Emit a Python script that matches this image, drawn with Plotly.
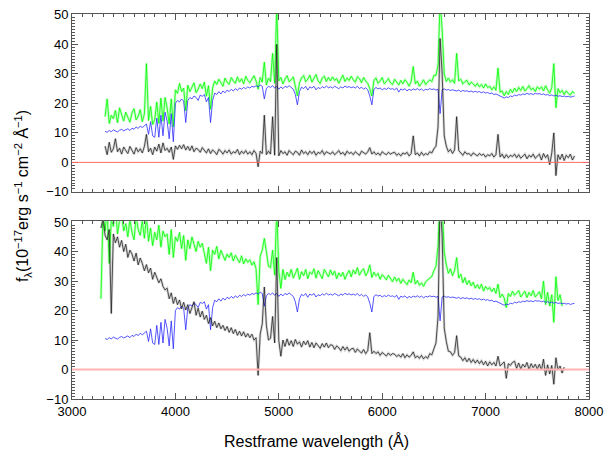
import numpy as np
import plotly.graph_objects as go

# Rest-frame wavelength grid (Angstrom), 20 A sampling
wave = np.arange(3280, 7861, 20)

# Host-galaxy model (blue), identical in both panels
blue_model = [
    None, None, 10.5, 10.2, 10.8, 10.4, 11.0, 10.6, 10.3, 10.9, 11.2, 10.7,
    11.0, 11.4, 10.8, 11.6, 11.2, 12.0, 11.5, 12.3, 11.8, 12.5,
    13.0, 9.5, 13.8, 9.0, 8.5, 15.0, 8.5, 16.0, 9.0, 17.0,
    14.0, 8.0, 16.5, 7.0, 20.0, 21.0, 20.5, 21.5, 20.8, 13.5,
    21.0, 22.0, 21.5, 22.5, 22.0, 21.0, 22.8, 22.4, 23.0, 20.5,
    22.0, 13.5, 21.0, 23.5, 23.0, 24.0, 23.2, 24.2, 23.6, 24.5,
    24.0, 24.8, 24.2, 25.0, 24.4, 25.2, 24.8, 25.4, 25.0, 25.6,
    25.2, 25.8, 25.5, 26.0, 25.6, 26.2, 25.8, 21.5, 25.0, 25.8,
    25.4, 26.0, 25.2, 25.8, 24.8, 25.6, 25.0, 25.8, 25.4, 26.0,
    25.5, 24.8, 23.0, 19.5, 24.0, 25.5, 25.0, 25.8, 24.5, 25.6,
    25.2, 25.8, 24.6, 25.4, 25.0, 25.7, 25.2, 25.9, 25.3, 25.6,
    25.2, 25.8, 25.4, 25.0, 25.6, 25.2, 25.9, 25.4, 25.7, 25.3,
    25.6, 25.2, 25.8, 25.0, 25.5, 24.8, 25.3, 24.6, 22.5, 19.5,
    24.8, 25.4, 24.9, 25.2, 24.6, 25.1, 24.7, 25.3, 24.8, 25.0,
    24.6, 25.2, 23.8, 24.9, 24.5, 25.0, 24.2, 24.8, 24.4, 24.9,
    24.6, 25.0, 24.5, 24.9, 24.3, 24.8, 24.6, 25.0, 24.7, 24.9,
    24.5, 24.8, 16.5, 24.6, 24.9, 24.5, 24.7, 24.4, 24.6, 24.3,
    24.2, 24.5, 24.0, 24.4, 24.1, 24.3, 23.9, 24.2, 23.8, 24.1,
    23.8, 24.0, 23.6, 23.9, 23.5, 23.7, 23.3, 23.5, 23.0, 23.2,
    22.8, 22.5, 22.0, 21.8, 22.2, 22.0, 22.5, 22.3, 22.8, 22.6,
    23.0, 22.8, 23.2, 23.0, 23.4, 23.1, 23.3, 23.0, 23.4, 23.2,
    23.3, 23.0, 23.2, 22.8, 23.0, 22.6, 22.9, 22.5, 22.8, 22.4,
    22.6, 22.3, 22.5, 22.2, 22.4, 22.1, 22.3, 22.5,
]

# Top panel: observed spectrum (green) and residual (black)
green_top = [
    None, None, 15.5, 21.5, 13.2, 16.0, 14.8, 17.6, 13.4, 18.5, 16.2, 14.0,
    17.0, 15.2, 13.6, 16.8, 18.2, 14.4, 15.6, 17.9, 13.8, 16.4,
    33.5, 14.2, 19.0, 12.8, 14.5, 20.5, 13.2, 21.8, 14.0, 22.0,
    18.5, 13.0, 21.5, 12.0, 24.6, 23.4, 26.8, 24.0, 25.2, 17.5,
    26.2, 24.0, 25.4, 27.0, 23.6, 24.8, 26.6, 25.0, 27.2, 22.4,
    26.0, 18.0, 25.2, 27.6, 26.4, 28.2, 27.0, 25.8, 28.6, 27.2,
    26.4, 28.8, 27.6, 26.8, 29.0, 27.2, 28.4, 26.6, 29.2, 27.8,
    27.0, 28.4, 29.4, 27.6, 24.8, 28.8, 27.2, 34.0, 26.2, 28.6,
    27.4, 37.0, 26.8, 53.0, 27.6, 28.8, 26.6, 28.2, 29.4, 27.4,
    28.0, 29.0, 25.2, 22.5, 27.0, 28.6, 29.4, 27.4, 28.2, 29.6,
    27.2, 28.4, 29.8, 27.6, 26.8, 28.6, 29.2, 27.4, 28.8, 27.6,
    29.0, 27.8, 28.4, 26.8, 28.2, 29.6, 27.4, 28.6, 27.8, 29.2,
    28.0, 27.2, 29.0, 28.4, 27.0, 28.8, 27.6, 26.8, 25.0, 22.5,
    27.8, 28.6, 26.8, 27.6, 28.8, 26.6, 27.4, 28.4, 27.0, 26.4,
    28.2, 27.0, 26.2, 27.8, 26.6, 28.0, 27.2, 25.8, 27.4, 32.5,
    26.6, 27.6, 25.8, 26.8, 28.0, 26.4, 27.2, 28.0, 27.4, 29.5,
    29.5, 33.0, 55.0, 45.0, 30.0, 27.4, 28.6, 27.2, 28.0, 26.8,
    37.0, 27.6, 28.2, 26.6, 27.4, 27.8, 26.2, 27.2, 26.6, 25.8,
    26.8, 25.6, 26.4, 25.2, 26.6, 25.4, 25.8, 24.6, 25.6, 24.4,
    32.0, 23.8, 24.2, 22.6, 24.0, 23.0, 24.8, 23.6, 25.2, 24.0,
    25.4, 24.4, 25.8, 24.2, 25.0, 26.0, 24.6, 25.2, 24.0, 25.6,
    24.8, 25.6, 24.2, 26.0, 24.6, 23.4, 25.4, 33.5, 18.5, 25.0,
    23.6, 24.4, 23.0, 24.2, 23.4, 22.8, 24.0, 23.4,
]

black_top = [
    None, None, 5.5, 2.6, 6.8, 3.4, 4.6, 8.0, 3.6, 4.8, 2.8, 5.2,
    4.0, 3.0, 5.4, 4.2, 2.8, 5.0, 3.6, 4.6, 3.2, 5.4,
    9.5, 3.6, 4.8, 2.6, 5.2, 3.8, 6.2, 3.2, 6.6, 4.0,
    4.8, 3.4, 5.2, 1.0, 5.6, 4.4, 5.8, 4.6, 6.0, 4.2,
    5.4, 4.0, 5.6, 3.6, 4.8, 4.4, 3.4, 5.0, 4.2, 3.2,
    4.6, 3.0, 4.2, 3.6, 2.6, 4.4, 3.8, 2.8, 4.0, 3.2,
    4.2, 2.8, 3.6, 3.2, 4.4, 2.6, 3.8, 3.0, 4.0, 2.8,
    3.6, 2.6, 4.0, 3.0, -1.5, 3.8, 3.0, 16.0, 2.6, 3.8,
    2.8, 15.5, 2.4, 40.0, 2.2, 4.0, 3.0, 3.6, 2.4, 4.0,
    3.2, 2.6, 3.8, 3.4, 2.4, 4.2, 3.0, 3.6, 2.6, 3.8,
    3.0, 3.8, 2.4, 3.4, 3.0, 4.0, 2.6, 3.6, 3.2, 2.8,
    3.6, 2.6, 3.2, 4.0, 2.8, 3.4, 2.4, 3.8, 3.0, 3.4,
    2.6, 3.6, 3.0, 2.4, 3.8, 3.2, 2.8, 3.6, 5.0, 2.8,
    3.6, 2.6, 3.2, 2.4, 3.6, 3.0, 2.6, 3.4, 2.8, 3.2,
    3.4, 2.4, 3.0, 2.2, 3.2, 2.8, 3.4, 2.2, 3.0, 9.0,
    2.6, 3.2, 2.2, 3.4, 2.4, 3.0, 2.6, 3.6, 3.2, 4.6,
    5.5, 12.0, 42.0, 30.0, 9.0, 5.5, 3.6, 4.4, 3.0, 4.2,
    15.5, 4.0, 3.2, 2.4, 3.6, 2.8, 3.0, 2.2, 3.2, 2.6,
    2.2, 3.0, 2.4, 2.8, 1.8, 2.6, 2.2, 3.0, 1.8, 2.6,
    9.5, 1.8, 2.8, 1.4, 2.6, 1.6, 2.4, 2.0, 2.8, 1.6,
    2.6, 1.4, 2.2, 2.8, 1.2, 2.4, 1.8, 2.8, 1.4, 2.2,
    2.8, 0.8, 3.0, 1.6, 2.6, -0.8, 3.2, 10.0, -4.5, 2.6,
    1.0, 2.8, 0.6, 2.4, 1.6, 2.8, 0.8, 2.2,
]

# Bottom panel: observed spectrum (green) and residual (black)
green_bot = [
    24.0, 53.0, 47.0, 54.0, 36.0, 51.0, 48.5, 55.0, 46.0, 50.5, 52.5, 47.0,
    49.5, 45.0, 51.0, 46.5, 44.0, 52.0, 47.5, 45.5, 50.5, 44.5,
    52.0, 43.5, 48.0, 42.0, 46.5, 44.0, 49.0, 41.5, 47.0, 45.0,
    46.0, 39.0, 47.5, 38.0, 45.0, 43.5, 46.5, 41.0, 45.5, 37.0,
    44.0, 41.0, 45.0, 42.5, 40.0, 43.5, 41.5, 42.8, 39.5, 36.0,
    41.5, 33.5, 40.5, 39.0, 41.8, 37.5, 40.5, 38.8, 37.0, 39.2,
    38.0, 39.6, 36.8, 38.8, 37.4, 36.2, 38.6, 35.8, 37.6, 36.4,
    37.2, 35.4, 36.6, 34.2, 22.0, 38.5, 40.5, 44.5, 40.0, 35.0,
    34.6, 40.5, 32.0, 55.0, 33.5, 27.5, 34.0, 30.5, 33.0, 31.5,
    34.0, 31.0, 32.6, 34.4, 30.6, 33.2, 31.8, 34.0, 30.8, 33.0,
    32.4, 34.2, 31.0, 33.6, 32.2, 30.8, 34.0, 32.6, 31.4, 33.8,
    32.0, 33.4, 30.8, 32.8, 31.6, 33.0, 30.6, 32.4, 33.6, 31.4,
    33.8, 32.4, 34.6, 32.0, 33.4, 34.2, 31.8, 33.0, 35.5, 31.2,
    33.0, 31.8, 32.6, 30.6, 32.2, 31.4, 30.4, 32.0, 30.8, 29.8,
    31.4, 30.0, 31.0, 29.2, 30.6, 29.8, 28.8, 30.4, 29.4, 33.0,
    29.0, 30.2, 28.6, 29.4, 28.2, 29.8, 30.4, 31.0, 31.6, 33.5,
    35.0, 42.0, 60.0, 56.0, 40.0, 35.5, 32.6, 34.2, 31.8, 33.6,
    38.0, 31.0, 32.4, 29.4, 31.2, 28.8, 30.2, 28.4, 29.6, 27.6,
    28.8, 27.4, 29.0, 26.6, 28.2, 27.2, 27.8, 26.4, 27.6, 25.8,
    29.0, 24.4, 25.6, 24.2, 21.0, 25.8, 24.8, 26.6, 25.2, 26.0,
    26.8, 24.6, 25.8, 26.6, 24.4, 26.2, 25.0, 26.8, 24.6, 25.6,
    26.4, 24.0, 30.0, 22.0, 26.2, 21.5, 25.4, 16.0, 31.5, 23.4,
    25.4, 21.5, None, None, None, None, None, None,
]

black_bot = [
    48.0, 51.0, 45.5, 44.0, 47.5, 19.0, 46.0, 43.0, 45.0, 41.5, 43.8, 40.0,
    42.5, 38.0, 40.5, 39.2, 36.8, 39.5, 35.5, 37.8, 36.0, 33.5,
    35.6, 32.8, 34.4, 30.6, 33.0, 31.2, 29.4, 30.8, 28.2, 27.0,
    27.6, 24.0, 26.0, 22.4, 24.6, 22.0, 23.6, 20.6, 22.8, 20.2,
    22.0, 19.0, 21.4, 23.0, 18.4, 20.8, 17.8, 19.8, 17.0, 18.4,
    15.6, 17.6, 14.8, 16.4, 14.2, 15.8, 13.8, 15.0, 13.2, 14.6,
    12.6, 14.2, 12.2, 13.6, 11.6, 13.0, 11.4, 12.8, 11.0, 12.2,
    10.8, 12.0, 10.0, 10.8, -2.0, 12.0, 15.5, 28.0, 15.0, 10.0,
    10.6, 18.0, 9.0, 38.0, 9.8, 4.5, 10.0, 7.8, 10.4, 8.2,
    9.8, 7.8, 10.2, 8.6, 9.4, 7.6, 9.6, 8.4, 9.8, 7.6,
    9.2, 7.4, 9.0, 8.0, 7.2, 8.8, 7.6, 9.0, 7.4, 8.4,
    8.2, 6.8, 8.0, 7.4, 6.4, 7.8, 6.6, 7.6, 6.2, 7.0,
    7.2, 5.8, 7.0, 6.2, 5.6, 6.8, 5.4, 6.4, 12.5, 5.4,
    6.2, 5.4, 6.0, 4.8, 5.8, 5.2, 4.6, 5.6, 4.8, 5.4,
    5.2, 4.4, 5.0, 4.2, 5.4, 4.0, 5.0, 4.2, 4.8, 6.0,
    4.0, 4.6, 3.8, 4.8, 3.6, 4.4, 3.8, 5.4, 5.0, 7.0,
    9.0, 18.0, 58.0, 45.0, 14.0, 9.5, 6.2, 6.0, 4.8, 5.8,
    11.5, 4.6, 4.2, 3.0, 4.0, 2.6, 3.8, 2.4, 3.4, 2.2,
    3.2, 2.0, 3.0, 1.6, 2.8, 1.2, 2.6, 1.6, 2.4, 1.2,
    4.5, 1.2, 1.8, 2.6, -3.0, 2.0, 1.4, 2.4, 2.8, 0.4,
    2.2, 0.2, 1.8, 0.8, 2.4, 0.0, 2.0, 0.6, 1.8, 0.2,
    1.8, -0.2, 3.5, -2.0, 1.6, -1.5, 1.4, -5.0, 4.0, -0.2,
    1.2, -1.2, 0.8, None, None, None, None, None,
]

x_ticks = [3000, 4000, 5000, 6000, 7000, 8000]
y_ticks = [-10, 0, 10, 20, 30, 40, 50]
x_range = [3000, 8000]
y_range = [-10, 50.3]

FONT = "Liberation Sans, Arial, Helvetica, sans-serif"
FRAME = "#555555"

fig = go.Figure()


def add_panel(xa, ya, green, black):
    common = dict(x=wave, mode="lines", xaxis=xa, yaxis=ya,
                  hoverinfo="skip", showlegend=False)
    fig.add_trace(go.Scatter(y=green, line=dict(color="rgba(120,255,120,0.45)", width=2.6), **common))
    fig.add_trace(go.Scatter(y=green, line=dict(color="#00ff00", width=0.8), **common))
    fig.add_trace(go.Scatter(y=blue_model, line=dict(color="#2a2aff", width=0.8), **common))
    fig.add_trace(go.Scatter(y=black, line=dict(color="rgba(0,0,0,0.16)", width=2.6), **common))
    fig.add_trace(go.Scatter(y=black, line=dict(color="#111111", width=0.7), **common))


add_panel("x", "y", green_top, black_top)
add_panel("x2", "y2", green_bot, black_bot)

# zero reference lines
fig.add_shape(type="line", xref="x", yref="y", x0=x_range[0], x1=x_range[1], y0=0, y1=0,
              line=dict(color="#ff6b6b", width=1))
fig.add_shape(type="line", xref="x2", yref="y2", x0=x_range[0], x1=x_range[1], y0=0, y1=0,
              line=dict(color="#ffb3b3", width=2))

xax = dict(range=x_range, showline=True, linecolor=FRAME, linewidth=1, mirror="ticks",
           ticks="inside", ticklen=6, tickcolor=FRAME, tickmode="array", tickvals=x_ticks,
           showgrid=False, zeroline=False,
           minor=dict(dtick=100, tick0=3000, ticklen=3, ticks="inside", tickcolor=FRAME, showgrid=False),
           tickfont=dict(family=FONT, size=13, color="black"))
yax = dict(range=y_range, showline=True, linecolor=FRAME, linewidth=1, mirror="ticks",
           ticks="inside", ticklen=6, tickcolor=FRAME, tickmode="array", tickvals=y_ticks,
           ticktext=[("\u221210" if v < 0 else str(v)) for v in y_ticks],
           showgrid=False, zeroline=False,
           minor=dict(dtick=1, tick0=0, ticklen=3, ticks="inside", tickcolor=FRAME, showgrid=False),
           tickfont=dict(family=FONT, size=13, color="black"))

fig.update_layout(
    width=610, height=453,
    margin=dict(l=72, r=18, t=7, b=54),
    paper_bgcolor="white", plot_bgcolor="white",
    xaxis=dict(**xax, domain=[0, 1], anchor="y", showticklabels=False),
    yaxis=dict(**yax, domain=[0.538, 1.0], anchor="x"),
    xaxis2=dict(**xax, domain=[0, 1], anchor="y2", showticklabels=True),
    yaxis2=dict(**yax, domain=[0.0, 0.4617], anchor="x2"),
    annotations=[
        dict(text="Restframe wavelength (\u00c5)", xref="paper", yref="paper",
             x=0.473, y=-0.108, xanchor="center", yanchor="middle", showarrow=False,
             font=dict(family=FONT, size=16, color="black")),
        dict(text="f<sub>\u03bb</sub>(10<sup>\u221217</sup>erg s<sup>\u22121</sup> cm<sup>\u22122</sup> \u00c5<sup>\u22121</sup>)",
             xref="paper", yref="paper", x=-0.096, y=0.528, xanchor="center", yanchor="middle",
             textangle=-90, showarrow=False, font=dict(family=FONT, size=16, color="black")),
    ],
)

fig.write_html("out.html")
